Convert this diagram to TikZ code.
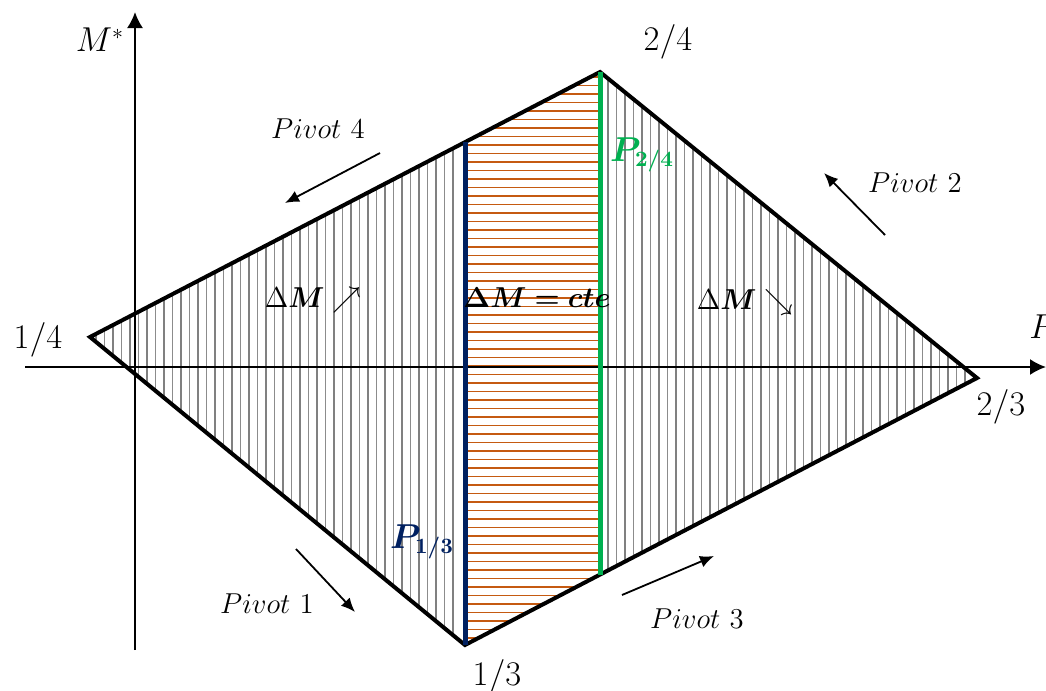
\documentclass[tikz,border=0pt]{standalone}
\usepackage{amsmath,bm}
\usetikzlibrary{arrows.meta}
\definecolor{navy}{RGB}{0,32,96}
\definecolor{pgreen}{RGB}{0,176,80}
\definecolor{porange}{RGB}{197,90,17}
\tikzset{
  axis/.style={line width=1pt, -{Latex[length=8pt,width=8pt]}},
  pivarrow/.style={line width=0.9pt, -{Latex[length=7pt,width=6pt]}},
  lbl/.style={font=\fontsize{16}{19}\selectfont, inner sep=1pt},
  pivlbl/.style={font=\fontsize{15.5}{18}\selectfont, inner sep=1pt},
  zonelbl/.style={font=\fontsize{14}{17}\selectfont, inner sep=1pt},
}
\begin{document}
\begin{tikzpicture}[x=0.5pt, y=-0.5pt]
    \useasboundingbox (0,0) rectangle (1046,691);
    % vertices of the rhombus
    \coordinate (A) at (90,337);
    \coordinate (B) at (600,72);
    \coordinate (C) at (977,378);
    \coordinate (D) at (465,645);
    \coordinate (Pt) at (465,142);
    \coordinate (Qb) at (600,575);
    % hatching
    \begin{scope}
        \clip (A) -- (B) -- (C) -- (D) -- cycle;
        \foreach \x in {96,113,...,460} \draw[gray, line width=1.3pt] (\x,60) -- (\x,660);
        \foreach \x in {104.5,121.5,...,460} \draw[gray!90, line width=0.7pt] (\x,60) -- (\x,660);
        \foreach \x in {608,625,...,977} \draw[gray, line width=1.3pt] (\x,60) -- (\x,660);
        \foreach \x in {616.5,633.5,...,977} \draw[gray!90, line width=0.7pt] (\x,60) -- (\x,660);
        \foreach \y in {77,94,...,645} \draw[porange, line width=1.3pt] (465,\y) -- (600,\y);
        \foreach \y in {85.5,102.5,...,645} \draw[porange, line width=0.8pt] (465,\y) -- (600,\y);
    \end{scope}
    % axes
    \coordinate (xs) at (25,367);
    \coordinate (xe) at (1046,367);
    \coordinate (ys) at (135,650);
    \coordinate (ye) at (135,12);
    \draw[axis] (xs) -- (xe);
    \draw[axis] (ys) -- (ye);
    % outline and the two lines
    \draw[line width=2pt, line join=miter] (A) -- (B) -- (C) -- (D) -- cycle;
    \draw[navy, line width=2.5pt] (Pt) -- (D);
    \draw[pgreen, line width=2.5pt] (B) -- (Qb);
    % labels
    \node[lbl] (lM) at (100,40) {$M^{*}$};
    \node[lbl, anchor=west] (lP) at (1027,327) {$P$};
    \node[lbl] (l14) at (38,340) {$1/4$};
    \node[lbl] (l24) at (668,42) {$2/4$};
    \node[lbl] (l23) at (1001,407) {$2/3$};
    \node[lbl] (l13) at (497,677) {$1/3$};
    \node[zonelbl] (dl) at (313,300) {$\Delta\bm{M}\nearrow$};
    \node[zonelbl] (dc) at (537,298) {$\bm{\Delta M = cte}$};
    \node[zonelbl] (dr) at (745,302) {$\Delta\bm{M}\searrow$};
    \node[lbl, text=pgreen] (p24) at (642,155) {$\bm{P_{2/4}}$};
    \node[lbl, text=navy] (p13) at (422,542) {$\bm{P_{1/3}}$};
    \node[pivlbl] (pv4) at (318,129) {$Pivot\ 4$};
    \node[pivlbl] (pv2) at (915,183) {$Pivot\ 2$};
    \node[pivlbl] (pv1) at (267,604) {$Pivot\ 1$};
    \node[pivlbl] (pv3) at (697,619) {$Pivot\ 3$};
    % pivot arrows
    \coordinate (a4s) at (380,153); \coordinate (a4e) at (285,203);
    \coordinate (a2s) at (885,235); \coordinate (a2e) at (824,173);
    \coordinate (a1s) at (296,549); \coordinate (a1e) at (355,612);
    \coordinate (a3s) at (622,595); \coordinate (a3e) at (714,556);
    \draw[pivarrow] (a4s) -- (a4e);
    \draw[pivarrow] (a2s) -- (a2e);
    \draw[pivarrow] (a1s) -- (a1e);
    \draw[pivarrow] (a3s) -- (a3e);
\end{tikzpicture}
\end{document}
